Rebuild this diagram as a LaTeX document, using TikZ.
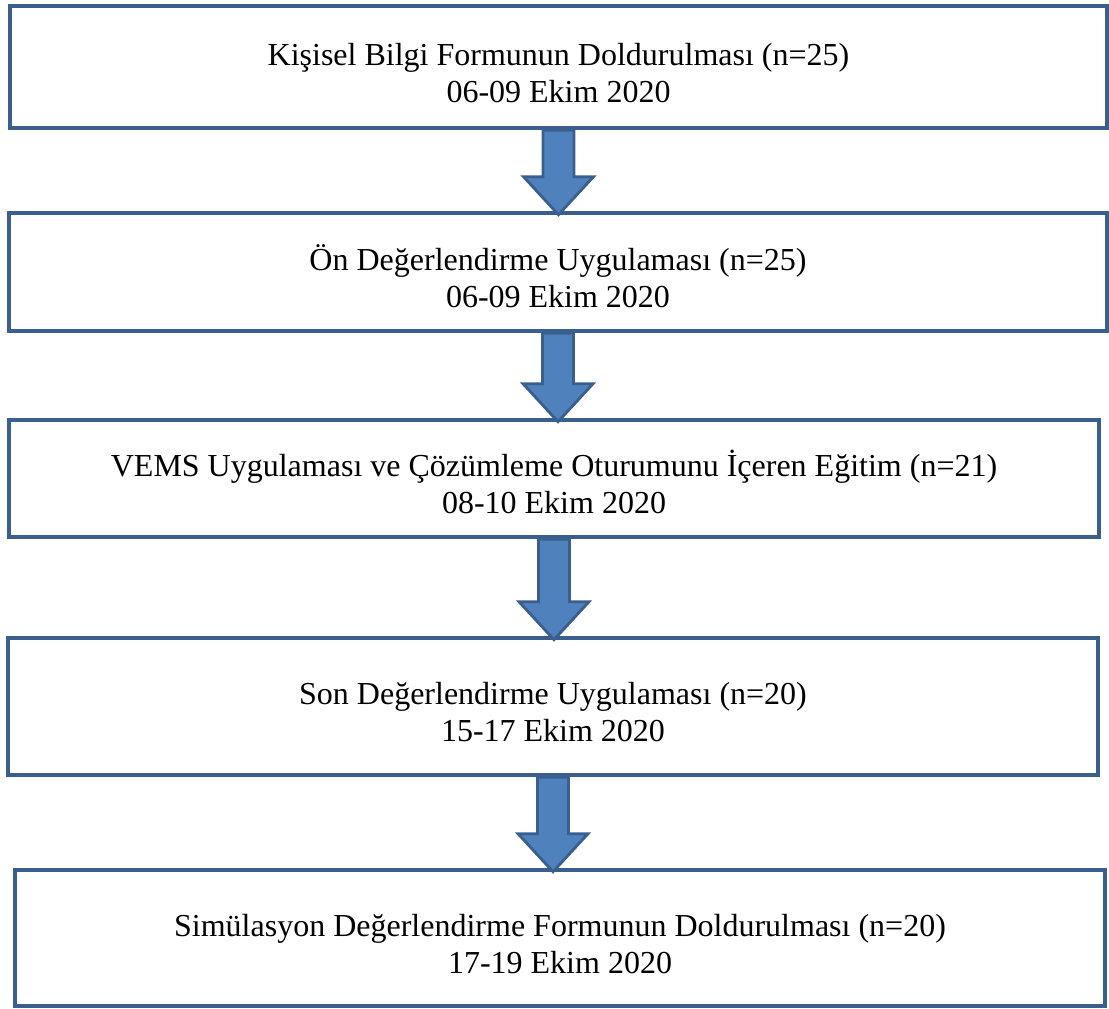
\documentclass[tikz,border=0pt]{standalone}
\usepackage{fontspec}
\setmainfont{Liberation Serif}
\usetikzlibrary{calc}
\definecolor{boxline}{HTML}{3A5F8F}
\definecolor{arrowfill}{HTML}{4F81BD}
\newcommand{\topgap}{\rule{0pt}{17pt}}

\begin{document}
\begin{tikzpicture}[x=0.5pt,y=-0.5pt,
  stage/.style={draw=boxline,line width=2.3pt,fill=white,align=center,
    font=\fontsize{16}{18.5}\selectfont,inner sep=0pt},
  flow/.style={draw=boxline,fill=arrowfill,line width=1.4pt,line join=miter}]
\newcommand{\flowarrow}[2]{
  \draw[flow] let \p1=(#1.south), \p2=(#2.north) in
    (\x1-7.75pt,\y1) -- (\x1-7.75pt,\y2+17pt) -- (\x1-17.5pt,\y2+17pt) -- (\x1,\y2-2pt)
    -- (\x1+17.5pt,\y2+17pt) -- (\x1+7.75pt,\y2+17pt) -- (\x1+7.75pt,\y1) -- cycle;
}

\useasboundingbox (0,0) rectangle (1109,1008);

\node[stage,minimum width=548.5pt,minimum height=61pt] (form) at (558.5,67)
  {\topgap Kişisel Bilgi Formunun Doldurulması (n=25)\\06-09 Ekim 2020};
\node[stage,minimum width=549pt,minimum height=59pt] (pretest) at (558,272)
  {\topgap Ön Değerlendirme Uygulaması (n=25)\\06-09 Ekim 2020};
\node[stage,minimum width=545pt,minimum height=58.5pt] (training) at (554,478.5)
  {\topgap VEMS Uygulaması ve Çözümleme Oturumunu İçeren Eğitim (n=21)\\08-10 Ekim 2020};
\node[stage,minimum width=545pt,minimum height=68.5pt] (posttest) at (553,706.5)
  {\topgap Son Değerlendirme Uygulaması (n=20)\\15-17 Ekim 2020};
\node[stage,minimum width=545pt,minimum height=68pt] (simform) at (560,938)
  {\topgap Simülasyon Değerlendirme Formunun Doldurulması (n=20)\\17-19 Ekim 2020};

\flowarrow{form}{pretest}
\flowarrow{pretest}{training}
\flowarrow{training}{posttest}
\flowarrow{posttest}{simform}

\end{tikzpicture}
\end{document}
